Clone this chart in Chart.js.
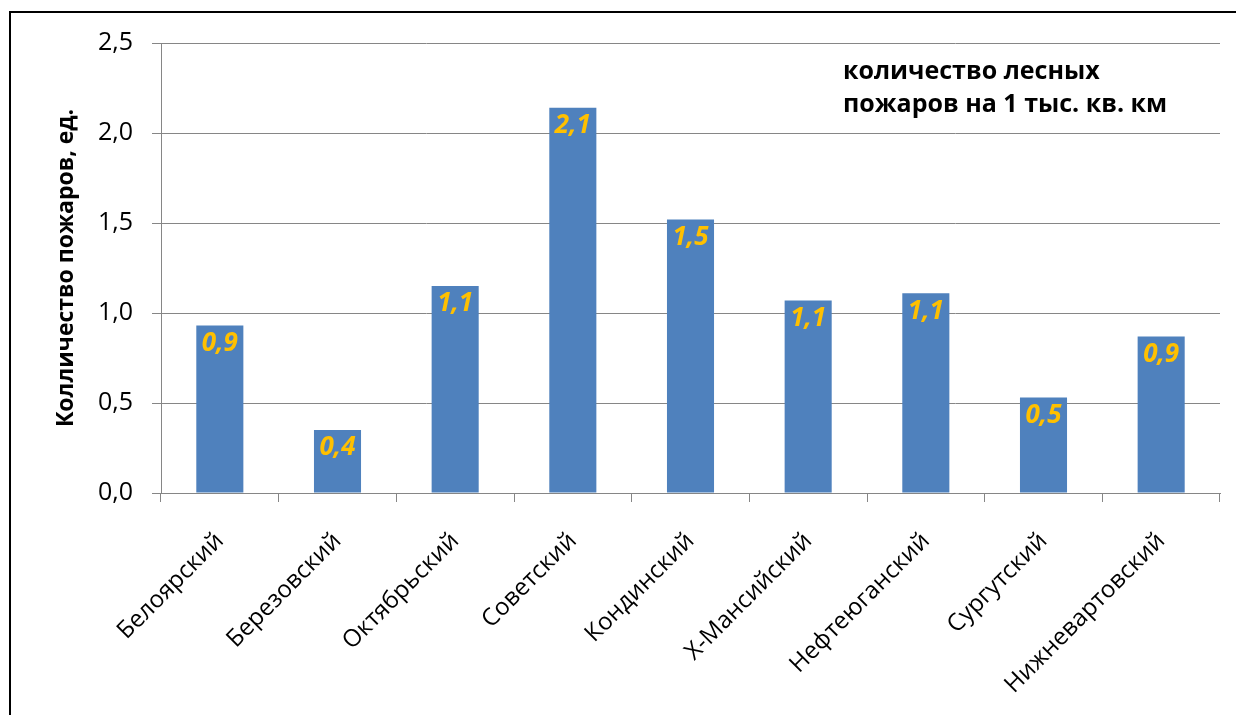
<!DOCTYPE html>
<html lang="ru">
<head>
<meta charset="utf-8">
<title>Лесные пожары</title>
<script src="https://cdn.jsdelivr.net/npm/chart.js@4.4.1/dist/chart.umd.min.js"></script>
<style>
    html, body { margin: 0; padding: 0; background: #ffffff; }
    #wrap { position: relative; width: 1236px; height: 715px; }
</style>
</head>
<body>
<div id="wrap"><canvas id="fireChart" width="1236" height="715"></canvas></div>
<script>
const districts = ['Белоярский', 'Березовский', 'Октябрьский', 'Советский', 'Кондинский',
    'Х-Мансийский', 'Нефтеюганский', 'Сургутский', 'Нижневартовский'];
const firesPerThousandKm = [0.93, 0.35, 1.15, 2.14, 1.52, 1.07, 1.11, 0.53, 0.87];
const valueLabels = ['0,9', '0,4', '1,1', '2,1', '1,5', '1,1', '1,1', '0,5', '0,9'];
const yTicks = [0, 0.5, 1.0, 1.5, 2.0, 2.5];
const yTitle = 'Колличество пожаров, ед.';
const noteLines = ['количество лесных', 'пожаров на 1 тыс. кв. км'];

const FONT = '"Open Sans", "DejaVu Sans", sans-serif';
const GRID = '#868686';

// frame, axis title, note and value labels are painted by hand
const extras = {
    id: 'extras',
    afterDraw(chart) {
        const ctx = chart.ctx;
        const area = chart.chartArea;
        ctx.save();

        ctx.strokeStyle = '#000000';
        ctx.lineWidth = 2;
        ctx.beginPath();
        ctx.moveTo(10, 715);
        ctx.lineTo(10, 12);
        ctx.lineTo(1236, 12);
        ctx.stroke();

        ctx.fillStyle = '#000000';
        ctx.font = 'bold 23px ' + FONT;
        ctx.textAlign = 'center';
        ctx.textBaseline = 'middle';
        ctx.translate(66, (area.top + area.bottom) / 2);
        ctx.rotate(-Math.PI / 2);
        ctx.fillText(yTitle, 0, 0);
        ctx.setTransform(1, 0, 0, 1, 0, 0);

        ctx.font = 'bold 25px ' + FONT;
        ctx.textAlign = 'left';
        ctx.textBaseline = 'alphabetic';
        ctx.fillText(noteLines[0], 843, 79);
        ctx.fillText(noteLines[1], 843, 112);

        ctx.fillStyle = '#FFC000';
        ctx.font = 'italic bold 26px ' + FONT;
        ctx.textAlign = 'center';
        ctx.textBaseline = 'middle';
        chart.getDatasetMeta(0).data.forEach(function (bar, i) {
            ctx.fillText(valueLabels[i], bar.x, bar.y + 18);
        });
        ctx.restore();
    }
};

function getChartData() {
    return {
        labels: districts,
        datasets: [{
            data: firesPerThousandKm,
            backgroundColor: '#4F81BD',
            borderWidth: 0,
            categoryPercentage: 1.0,
            barPercentage: 0.4
        }]
    };
}

document.addEventListener('DOMContentLoaded', function () {
    const ctx = document.getElementById('fireChart').getContext('2d');
    new Chart(ctx, {
        type: 'bar',
        data: getChartData(),
        plugins: [extras],
        options: {
            responsive: false,
            animation: false,
            layout: { padding: { top: 43, right: 16, left: 0, bottom: 0 } },
            plugins: {
                legend: { display: false },
                tooltip: { enabled: false }
            },
            scales: {
                x: {
                    grid: {
                        display: true,
                        drawOnChartArea: false,
                        drawTicks: true,
                        tickLength: 9,
                        color: GRID
                    },
                    border: { color: GRID },
                    ticks: {
                        color: '#000000',
                        font: { family: FONT, size: 24 },
                        minRotation: 45,
                        maxRotation: 45,
                        autoSkip: false,
                        padding: 25
                    },
                    afterFit: function (scale) { scale.height = 715 - 493; }
                },
                y: {
                    min: yTicks[0],
                    max: yTicks[yTicks.length - 1],
                    afterBuildTicks: function (scale) {
                        scale.ticks = yTicks.map(function (v) { return { value: v }; });
                    },
                    grid: { color: GRID, tickLength: 9 },
                    border: { color: GRID },
                    ticks: {
                        color: '#000000',
                        font: { family: FONT, size: 25 },
                        padding: 19,
                        callback: function (v) { return v.toFixed(1).replace('.', ','); }
                    },
                    afterFit: function (scale) { scale.width = 161; }
                }
            }
        }
    });
});
</script>
</body>
</html>
